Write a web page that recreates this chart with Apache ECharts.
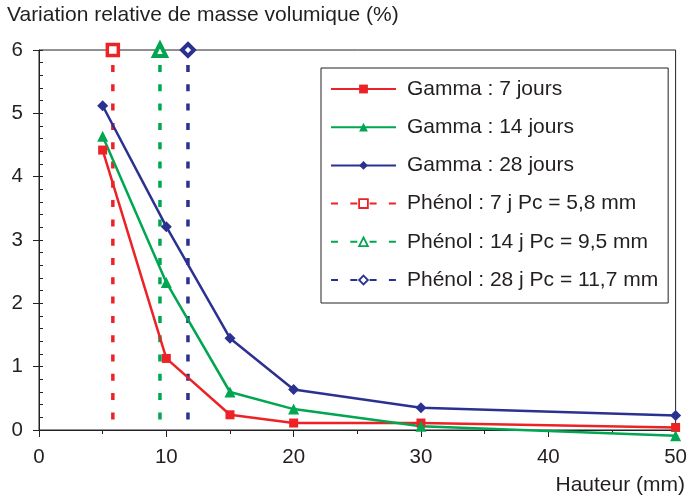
<!DOCTYPE html>
<html>
<head>
<meta charset="utf-8">
<script src="https://cdn.jsdelivr.net/npm/echarts@6/dist/echarts.min.js"></script>
<style>
  html, body { margin: 0; padding: 0; background: #fff; }
  #chart { width: 690px; height: 499px; }
</style>
</head>
<body>
<div id="chart"></div>
<script>
// Hauteur (mm) des points de mesure gamma
const hauteurs = [5, 10, 15, 20, 30, 50];
// Variation relative de masse volumique (%) par durée
const gamma7 = [4.42, 1.13, 0.24, 0.11, 0.11, 0.04];
const gamma14 = [4.64, 2.33, 0.60, 0.33, 0.06, -0.09];
const gamma28 = [5.12, 3.21, 1.45, 0.64, 0.35, 0.23];
// Profondeurs de pénétration au phénol (mm)
const phenolPc = [5.8, 9.5, 11.7];
const phenolRange = [6, 0];
const seriesNames = [
  'Gamma : 7 jours', 'Gamma : 14 jours', 'Gamma : 28 jours',
  'Phénol : 7 j Pc = 5,8 mm', 'Phénol : 14 j Pc = 9,5 mm', 'Phénol : 28 j Pc = 11,7 mm'
];
const xTicks = [0, 10, 20, 30, 40, 50];
const yTicks = [0, 1, 2, 3, 4, 5, 6];

const RED = '#ec2227', GREEN = '#00a650', BLUE = '#2b3190';
const FONT = "'Liberation Sans', Arial, Helvetica, sans-serif";
const TXT = '#231f20';

function gammaSeries(name, values, color, symbol, size) {
  return {
    name, type: 'line', clip: false, z: 3,
    data: hauteurs.map((h, i) => [h, values[i]]),
    symbol, symbolSize: size,
    lineStyle: { color, width: 2.5 },
    itemStyle: { color, borderWidth: 0 }
  };
}
function phenolSeries(name, pc, color, symbol, size, border) {
  return {
    name, type: 'line', clip: false, z: 2,
    data: [
      { value: [pc, phenolRange[0]] },
      { value: [pc, phenolRange[1]], symbol: 'none' }
    ],
    symbol, symbolSize: size,
    lineStyle: { color, width: 3.5, type: [7, 12.3], dashOffset: 4.3 },
    itemStyle: { color: '#ffffff', borderColor: color, borderWidth: border }
  };
}

const chart = echarts.init(document.getElementById('chart'), null, { renderer: 'canvas' });
const yBase = { type: 'value', min: yTicks[0], max: yTicks[yTicks.length - 1], interval: 1, splitLine: { show: false } };

chart.setOption({
  animation: false,
  backgroundColor: '#ffffff',
  textStyle: { fontFamily: FONT },
  grid: { left: 39, right: 10, top: 50, bottom: 69, show: true, borderColor: '#222', borderWidth: 1 },
  title: {
    text: 'Variation relative de masse volumique (%)',
    left: 7, top: 5, padding: 0,
    textStyle: { fontFamily: FONT, fontSize: 21, fontWeight: 'normal', color: TXT }
  },
  graphic: [{
    type: 'text', right: 5, top: 475,
    style: { text: 'Hauteur (mm)', font: "21px 'Liberation Sans', Arial, sans-serif", fill: TXT }
  }],
  xAxis: {
    type: 'value', min: xTicks[0], max: xTicks[xTicks.length - 1], interval: 10,
    axisLine: { show: true, onZero: false, lineStyle: { color: '#222', width: 1 } },
    axisTick: { show: true, length: 7, lineStyle: { color: '#222' } },
    minorTick: { show: true, splitNumber: 2, length: 4, lineStyle: { color: '#222' } },
    axisLabel: { fontSize: 20.5, color: TXT, margin: 17, fontFamily: FONT },
    splitLine: { show: false }
  },
  yAxis: [
    Object.assign({}, yBase, {
      axisLine: { show: true, lineStyle: { color: '#222', width: 1 } },
      axisTick: { show: true, inside: true, length: 4, lineStyle: { color: '#222' } },
      minorTick: { show: true, splitNumber: 5, length: 4, lineStyle: { color: '#222' } },
      axisLabel: { fontSize: 20.5, color: TXT, margin: 16, padding: [0, 0, 8, 0], fontFamily: FONT }
    }),
    Object.assign({}, yBase, {
      position: 'left',
      axisLine: { show: false },
      axisTick: { show: true, inside: false, length: 6, lineStyle: { color: '#222' } },
      axisLabel: { show: false }
    })
  ],
  legend: {
    orient: 'vertical', left: 321, top: 68,
    padding: [10, 10, 12, 9],
    backgroundColor: '#ffffff', borderColor: '#222', borderWidth: 1,
    itemWidth: 65, itemHeight: 11, itemGap: 16.2,
    textStyle: { fontSize: 21, color: TXT, lineHeight: 22, fontFamily: FONT, padding: [0, 0, 0, 6] },
    data: [
      { name: seriesNames[0] },
      { name: seriesNames[1] },
      { name: seriesNames[2] },
      { name: seriesNames[3], lineStyle: { dashOffset: 0 }, itemStyle: { borderWidth: 1.8 } },
      { name: seriesNames[4], lineStyle: { dashOffset: 0 }, itemStyle: { borderWidth: 1.8 } },
      { name: seriesNames[5], lineStyle: { dashOffset: 0 }, itemStyle: { borderWidth: 1.8 } }
    ]
  },
  series: [
    phenolSeries(seriesNames[3], phenolPc[0], RED, 'rect', 11, 3.5),
    phenolSeries(seriesNames[4], phenolPc[1], GREEN, 'triangle', 12, 4),
    phenolSeries(seriesNames[5], phenolPc[2], BLUE, 'diamond', 12, 4),
    gammaSeries(seriesNames[0], gamma7, RED, 'rect', 9),
    gammaSeries(seriesNames[1], gamma14, GREEN, 'triangle', 11),
    gammaSeries(seriesNames[2], gamma28, BLUE, 'diamond', 11)
  ]
});
</script>
</body>
</html>
